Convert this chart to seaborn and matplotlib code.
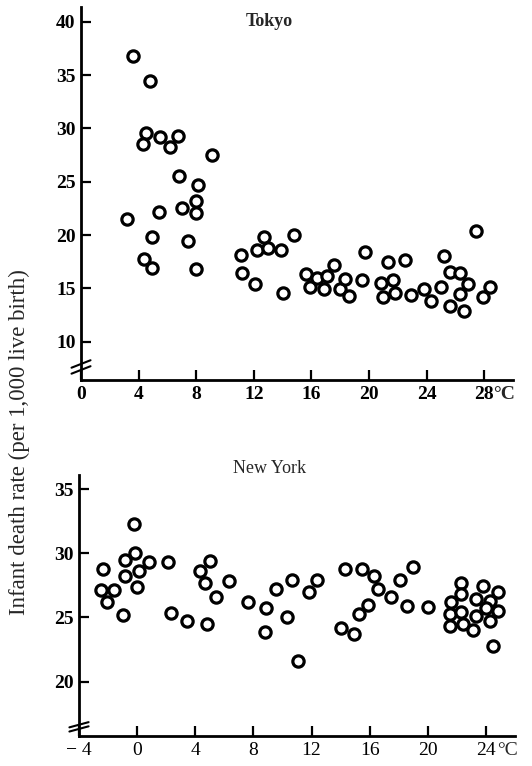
import numpy as np
import pandas as pd
import seaborn as sns
import matplotlib.pyplot as plt

# Tokyo: monthly mean temperature (deg C) vs infant death rate
tokyo_temp = [3.6, 4.8, 4.5, 4.3, 5.5, 6.2, 6.7, 9.1, 6.8, 8.1, 8.0, 8.0, 7.0, 5.4,
              3.2, 4.9, 7.4, 4.4, 4.9, 8.0, 11.1, 11.2, 12.1, 12.2, 12.7, 13.0, 13.9,
              14.0, 14.8, 15.6, 15.9, 16.4, 16.9, 17.1, 17.6, 18.0, 18.3, 18.6, 19.5,
              19.7, 20.8, 21.0, 21.3, 21.7, 21.8, 22.5, 22.9, 23.8, 24.3, 25.0, 25.2,
              25.6, 25.6, 26.3, 26.3, 26.9, 26.6, 27.4, 27.9, 28.4]
tokyo_rate = [36.8, 34.5, 29.6, 28.5, 29.2, 28.3, 29.3, 27.5, 25.5, 24.7, 23.2, 22.1,
              22.5, 22.2, 21.5, 19.8, 19.4, 17.8, 16.9, 16.8, 18.1, 16.4, 15.4, 18.6,
              19.8, 18.8, 18.6, 14.6, 20.0, 16.3, 15.1, 16.0, 14.9, 16.2, 17.2, 14.9,
              15.9, 14.3, 15.8, 18.4, 15.5, 14.2, 17.5, 15.8, 14.6, 17.7, 14.4, 14.9,
              13.8, 15.1, 18.0, 16.5, 13.3, 16.4, 14.5, 15.4, 12.9, 20.4, 14.2, 15.1]

# New York
ny_temp = [-2.35, -2.5, -1.6, -2.1, -1.0, -0.85, -0.85, -0.2, -0.15, 0.1, 0.0, 0.8,
           2.1, 2.3, 3.4, 4.3, 5.0, 4.7, 5.4, 4.8, 6.3, 7.6, 8.9, 8.8, 9.55, 10.3,
           10.65, 11.1, 11.8, 12.4, 14.0, 14.3, 14.9, 15.25, 15.5, 15.9, 16.3, 16.6,
           17.5, 18.1, 18.6, 19.0, 20.0, 21.6, 21.5, 21.5, 22.3, 22.3, 22.3, 22.4,
           23.1, 23.35, 23.35, 23.8, 24.3, 24.0, 24.3, 24.85, 24.85, 24.5]
ny_rate = [28.75, 27.1, 27.1, 26.2, 25.2, 28.2, 29.5, 32.3, 30.05, 28.6, 27.4, 29.3,
           29.3, 25.35, 24.7, 28.6, 29.4, 27.7, 26.6, 24.5, 27.8, 26.2, 25.7, 23.9,
           27.2, 25.0, 27.9, 21.6, 27.0, 27.9, 24.2, 28.75, 23.7, 25.25, 28.8, 26.0,
           28.2, 27.2, 26.6, 27.9, 25.9, 28.95, 25.8, 26.2, 25.25, 24.3, 27.7, 26.8,
           25.4, 24.5, 24.05, 26.4, 25.1, 27.45, 26.3, 25.7, 24.7, 27.0, 25.5, 22.8]

tokyo = pd.DataFrame({"temp": tokyo_temp, "rate": tokyo_rate})
ny = pd.DataFrame({"temp": ny_temp, "rate": ny_rate})

sns.set_style("ticks")
plt.rcParams['font.family'] = ['Liberation Serif', 'DejaVu Serif']

fig = plt.figure(figsize=(5.32, 7.66), dpi=100)
ax1 = fig.add_axes([0.1523, 0.5039, 0.812, 0.487])
ax2 = fig.add_axes([0.1485, 0.0392, 0.8195, 0.3407])


def style_axis(ax, bold_x):
    sns.despine(ax=ax)
    for s in ["left", "bottom"]:
        ax.spines[s].set_linewidth(2.0)
        ax.spines[s].set_color("black")
    ax.tick_params(direction="in", length=7, width=1.6, labelsize=14, pad=4, colors="black")
    for lab in ax.get_yticklabels():
        lab.set_fontweight("bold")
    for lab in ax.get_xticklabels():
        lab.set_fontweight("bold" if bold_x else "normal")
    ax.set_xlabel("")
    ax.set_ylabel("")
    ax.grid(False)
    # axis break mark on the y axis
    for dy in (-0.008, 0.008):
        ax.plot([-0.022, 0.022], [0.035 + dy - 0.01, 0.035 + dy + 0.01],
                transform=ax.transAxes, color="black", lw=1.5, clip_on=False)


def unit_label(ax, x, bold):
    ax.annotate("°C", xy=(x, 0), xycoords=ax.get_xaxis_transform(),
                xytext=(0, -4), textcoords="offset points", va="top", ha="left",
                fontsize=14, fontweight="bold" if bold else "normal")


sns.scatterplot(data=tokyo, x="temp", y="rate", ax=ax1, marker="o", s=66,
                facecolor="white", edgecolor="black", linewidth=2.3, legend=False)
ax1.set_xlim(0, 30)
ax1.set_ylim(6.4, 41.4)
ax1.set_xticks([0, 4, 8, 12, 16, 20, 24, 28])
ax1.set_yticks([10, 15, 20, 25, 30, 35, 40])
style_axis(ax1, True)
unit_label(ax1, 28.6, True)
ax1.text(13.1, 40.0, "Tokyo", fontsize=13, fontweight="bold", ha="center", va="center")

sns.scatterplot(data=ny, x="temp", y="rate", ax=ax2, marker="o", s=66,
                facecolor="white", edgecolor="black", linewidth=2.3, legend=False)
ax2.set_xlim(-4, 26)
ax2.set_ylim(15.76, 36.1)
ax2.set_xticks([-4, 0, 4, 8, 12, 16, 20, 24])
ax2.set_xticklabels(["\u2212 4", "0", "4", "8", "12", "16", "20", "24"])
ax2.set_yticks([20, 25, 30, 35])
style_axis(ax2, False)
unit_label(ax2, 24.75, False)
ax2.text(9.1, 36.6, "New York", fontsize=13, ha="center", va="center")

fig.text(0.036, 0.423, "Infant death rate (per 1,000 live birth)", rotation=90,
         ha="center", va="center", fontsize=16.5)

fig.savefig("out.png", dpi=100)
